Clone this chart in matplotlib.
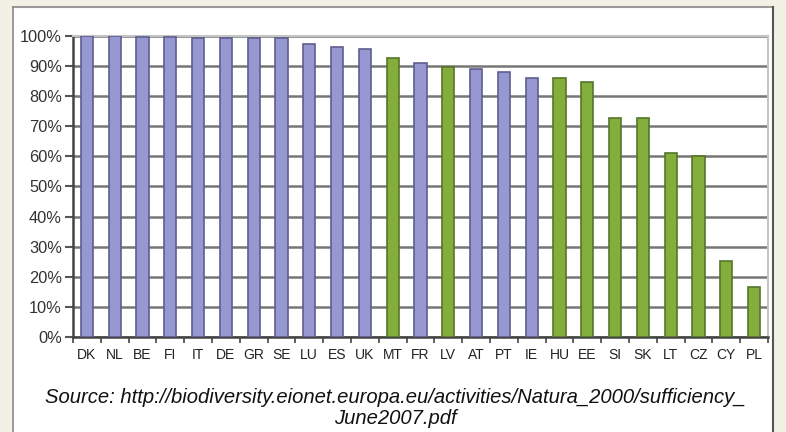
import matplotlib
matplotlib.use("Agg")
import matplotlib.pyplot as plt
from matplotlib.patches import Rectangle
from matplotlib.lines import Line2D
from matplotlib.ticker import PercentFormatter, FixedLocator

countries = ["DK", "NL", "BE", "FI", "IT", "DE", "GR", "SE", "LU", "ES", "UK", "MT",
             "FR", "LV", "AT", "PT", "IE", "HU", "EE", "SI", "SK", "LT", "CZ", "CY", "PL"]
sufficiency = [100, 100, 99.8, 99.8, 99.2, 99.2, 99.2, 99.2, 97.3, 96.2, 95.6, 92.8,
               91.0, 89.8, 89.0, 88.0, 86.0, 86.0, 84.8, 72.6, 72.6, 61.0, 60.0, 25.3, 16.7]
group = ["old", "old", "old", "old", "old", "old", "old", "old", "old", "old", "old", "new",
         "old", "new", "old", "old", "old", "new", "new", "new", "new", "new", "new", "new", "new"]
caption = ("Source: http://biodiversity.eionet.europa.eu/activities/Natura_2000/sufficiency_\n"
           "June2007.pdf")

face = {"old": "#9797d2", "new": "#84ae3c"}
edge = {"old": "#5e5e8e", "new": "#56752a"}

plt.rcParams["font.family"] = ["Liberation Sans", "DejaVu Sans"]
W, H = 786, 432
fig = plt.figure(figsize=(W / 100, H / 100), dpi=100)
fig.patch.set_facecolor("#f2f1e6")

# white panel with borders
fig.patches.append(Rectangle((13 / W, 0), (773 - 13) / W, (H - 7) / H, transform=fig.transFigure,
                             facecolor="white", edgecolor="none", zorder=-5))
fig.lines.append(Line2D([13 / W, 773 / W], [(H - 7) / H] * 2, transform=fig.transFigure,
                        color="#9a9a9a", lw=1.5, zorder=-4))
fig.lines.append(Line2D([13 / W] * 2, [0, (H - 7) / H], transform=fig.transFigure,
                        color="#8a8a8a", lw=1.2, zorder=-4))
fig.lines.append(Line2D([773 / W] * 2, [0, (H - 7) / H], transform=fig.transFigure,
                        color="#555555", lw=1.5, zorder=-4))

ax = fig.add_axes([73 / W, (H - 337) / H, (768 - 73) / W, (337 - 36) / H])
ax.set_facecolor("white")
x = list(range(len(countries)))
vals = [v / 100 for v in sufficiency]
ax.bar(x, vals, width=0.44, color=[face[g] for g in group],
       edgecolor=[edge[g] for g in group], linewidth=1.2, zorder=3)
ax.set_xlim(-0.5, len(countries) - 0.5)
ax.set_ylim(0, 1.0)
ax.yaxis.set_major_locator(FixedLocator([i / 10 for i in range(11)]))
ax.yaxis.set_major_formatter(PercentFormatter(1.0, decimals=0))
ax.grid(axis="y", color="#767676", linewidth=1.8, zorder=1)
ax.set_axisbelow(True)
ax.set_xticks(x)
ax.set_xticklabels(countries)
ax.set_xticks([i - 0.5 for i in range(len(countries) + 1)], minor=True)
ax.tick_params(axis="x", which="major", length=0, pad=8, labelsize=10, colors="#222222")
ax.tick_params(axis="x", which="minor", length=4, width=1.2, color="#444444", direction="out")
ax.tick_params(axis="y", length=6, width=1.5, color="#555555", labelsize=11.8, labelcolor="#333333", pad=2)
for s in ["left", "bottom"]:
    ax.spines[s].set_color("#444444")
    ax.spines[s].set_linewidth(1.8)
for s in ["top", "right"]:
    ax.spines[s].set_color("#c4c4c4")
    ax.spines[s].set_linewidth(1.5)

fig.text(395 / W, (H - 408) / H, caption, ha="center", va="center", fontsize=14.6,
         style="italic", color="#111111", linespacing=1.15)

fig.savefig("out.png", dpi=100, facecolor=fig.get_facecolor())
